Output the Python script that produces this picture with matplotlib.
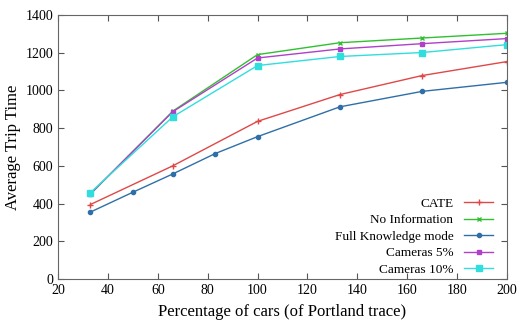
import matplotlib
matplotlib.use("Agg")
import matplotlib.pyplot as plt

x_main = [33, 66, 100, 133, 166, 200]
x_full = [33, 50, 66, 83, 100, 133, 166, 200]

cate = [395, 600, 836, 978, 1079, 1153]
no_info = [450, 890, 1190, 1253, 1278, 1303]
full_knowledge = [355, 460, 557, 665, 755, 913, 995, 1043]
cam5 = [452, 887, 1172, 1220, 1248, 1275]
cam10 = [458, 860, 1132, 1180, 1201, 1243]

plt.rcParams['font.family'] = ['Liberation Serif', 'DejaVu Serif']

fig = plt.figure(figsize=(5.2, 3.2), dpi=100)
ax = fig.add_axes([58/520, 1-279/320, (507-58)/520, (279-15)/320])

ax.plot(x_main, cate, color='#e04848', lw=1, marker='+', ms=4, label='CATE')
ax.plot(x_main, no_info, color='#30c030', lw=1, marker='x', ms=3.5, label='No Information')
ax.plot(x_full, full_knowledge, color='#2f6fa8', lw=1, marker='o', ms=3, label='Full Knowledge mode')
ax.plot(x_main, cam5, color='#b040c8', lw=1, marker='s', ms=3.5, label='Cameras 5%')
ax.plot(x_main, cam10, color='#30dede', lw=1, marker='s', ms=4, label='Cameras 10%')

ax.set_xlim(20, 200)
ax.set_ylim(0, 1400)
ax.set_xticks(range(20, 201, 20))
ax.set_yticks(range(0, 1401, 200))
ax.tick_params(direction='in', top=True, right=True, labelsize=10, length=4, color='#555555')
for s in ax.spines.values():
    s.set_color('#666666')
ax.set_xlabel('Percentage of cars (of Portland trace)', fontsize=12, labelpad=5)
ax.set_ylabel('Average Trip Time', fontsize=12, labelpad=3)

leg = ax.legend(loc='lower right', frameon=False, markerfirst=False, fontsize=9.5,
                handlelength=2.2, labelspacing=0.32, borderaxespad=0.25,
                bbox_to_anchor=(0.988, -0.02))
for t in leg.get_texts():
    t.set_ha('right')

fig.savefig('out.png', dpi=100)
